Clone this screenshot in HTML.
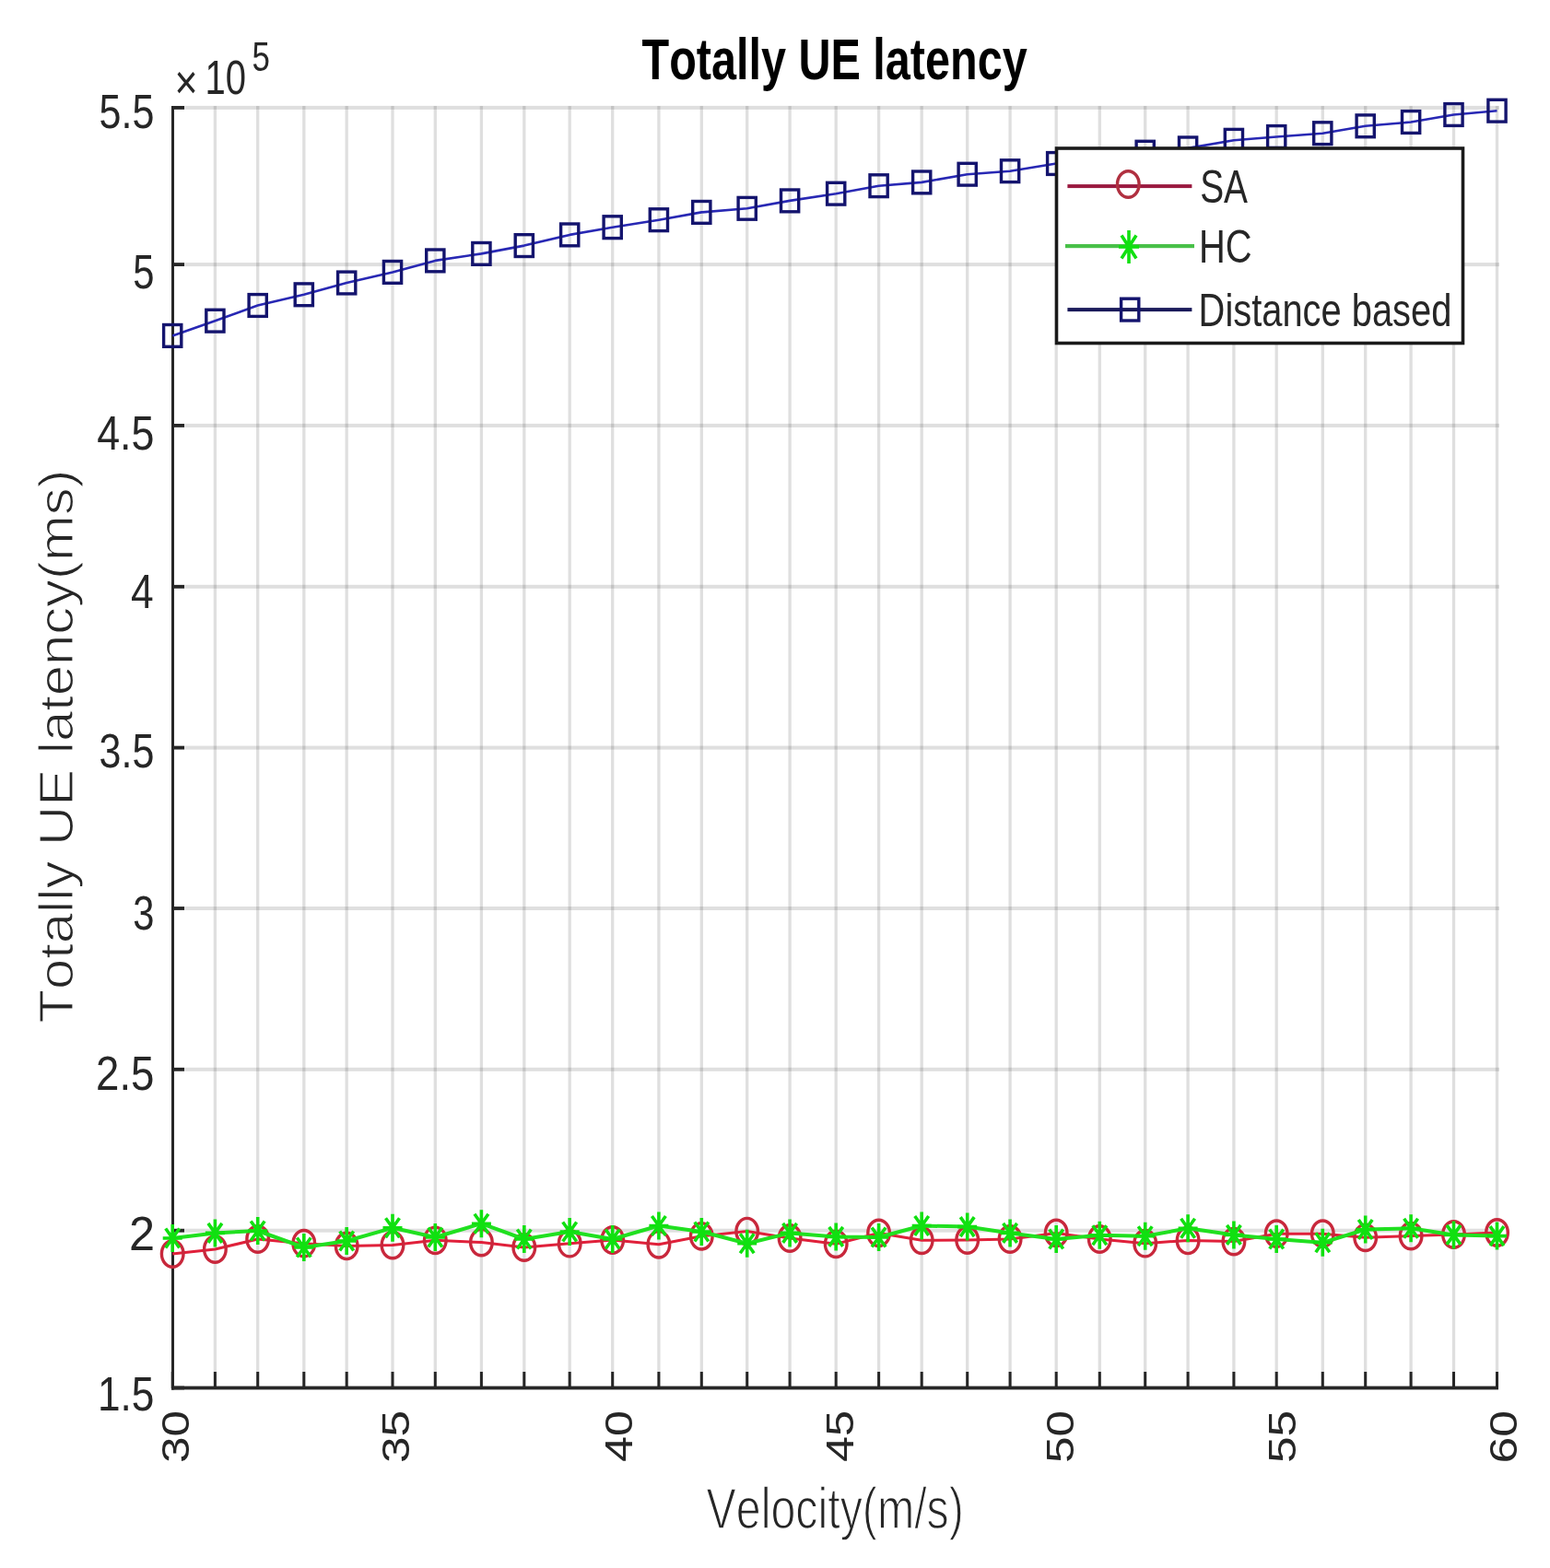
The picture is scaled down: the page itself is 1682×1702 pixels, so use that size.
<!DOCTYPE html>
<html><head><meta charset="utf-8"><title>Totally UE latency</title>
<style>html,body{margin:0;padding:0;background:#fff;overflow:hidden}svg{display:block}</style></head>
<body>
<svg width="1682" height="1702" viewBox="0 0 1682 1702">
<rect width="1682" height="1702" fill="#fff"/>
<rect x="231.75" y="115" width="3.3" height="1391" fill="rgba(38,38,38,0.15)"/>
<rect x="278.05" y="115" width="3.3" height="1391" fill="rgba(38,38,38,0.15)"/>
<rect x="328.15" y="115" width="3.3" height="1391" fill="rgba(38,38,38,0.15)"/>
<rect x="374.55" y="115" width="3.3" height="1391" fill="rgba(38,38,38,0.15)"/>
<rect x="424.35" y="115" width="3.3" height="1391" fill="rgba(38,38,38,0.15)"/>
<rect x="470.65" y="115" width="3.3" height="1391" fill="rgba(38,38,38,0.15)"/>
<rect x="520.75" y="115" width="3.3" height="1391" fill="rgba(38,38,38,0.15)"/>
<rect x="567.15" y="115" width="3.3" height="1391" fill="rgba(38,38,38,0.15)"/>
<rect x="616.55" y="115" width="3.3" height="1391" fill="rgba(38,38,38,0.15)"/>
<rect x="663.05" y="115" width="3.3" height="1391" fill="rgba(38,38,38,0.15)"/>
<rect x="713.25" y="115" width="3.3" height="1391" fill="rgba(38,38,38,0.15)"/>
<rect x="759.65" y="115" width="3.3" height="1391" fill="rgba(38,38,38,0.15)"/>
<rect x="809.05" y="115" width="3.3" height="1391" fill="rgba(38,38,38,0.15)"/>
<rect x="855.45" y="115" width="3.3" height="1391" fill="rgba(38,38,38,0.15)"/>
<rect x="905.55" y="115" width="3.3" height="1391" fill="rgba(38,38,38,0.15)"/>
<rect x="951.95" y="115" width="3.3" height="1391" fill="rgba(38,38,38,0.15)"/>
<rect x="998.55" y="115" width="3.3" height="1391" fill="rgba(38,38,38,0.15)"/>
<rect x="1048.05" y="115" width="3.3" height="1391" fill="rgba(38,38,38,0.15)"/>
<rect x="1094.45" y="115" width="3.3" height="1391" fill="rgba(38,38,38,0.15)"/>
<rect x="1144.55" y="115" width="3.3" height="1391" fill="rgba(38,38,38,0.15)"/>
<rect x="1191.65" y="115" width="3.3" height="1391" fill="rgba(38,38,38,0.15)"/>
<rect x="1241.05" y="115" width="3.3" height="1391" fill="rgba(38,38,38,0.15)"/>
<rect x="1287.45" y="115" width="3.3" height="1391" fill="rgba(38,38,38,0.15)"/>
<rect x="1337.25" y="115" width="3.3" height="1391" fill="rgba(38,38,38,0.15)"/>
<rect x="1383.55" y="115" width="3.3" height="1391" fill="rgba(38,38,38,0.15)"/>
<rect x="1433.65" y="115" width="3.3" height="1391" fill="rgba(38,38,38,0.15)"/>
<rect x="1480.05" y="115" width="3.3" height="1391" fill="rgba(38,38,38,0.15)"/>
<rect x="1529.45" y="115" width="3.3" height="1391" fill="rgba(38,38,38,0.15)"/>
<rect x="1575.85" y="115" width="3.3" height="1391" fill="rgba(38,38,38,0.15)"/>
<rect x="1622.85" y="115" width="3.3" height="1391" fill="rgba(38,38,38,0.15)"/>
<rect x="187" y="114.90" width="1440" height="4" fill="rgba(38,38,38,0.15)"/>
<rect x="187" y="285.10" width="1440" height="4" fill="rgba(38,38,38,0.15)"/>
<rect x="187" y="459.90" width="1440" height="4" fill="rgba(38,38,38,0.15)"/>
<rect x="187" y="634.80" width="1440" height="4" fill="rgba(38,38,38,0.15)"/>
<rect x="187" y="809.60" width="1440" height="4" fill="rgba(38,38,38,0.15)"/>
<rect x="187" y="984.00" width="1440" height="4" fill="rgba(38,38,38,0.15)"/>
<rect x="187" y="1158.80" width="1440" height="4" fill="rgba(38,38,38,0.15)"/>
<rect x="187" y="1333.70" width="1440" height="4" fill="rgba(38,38,38,0.15)"/>
<rect x="186" y="115" width="3" height="1393.5" fill="#262626"/>
<rect x="186" y="1504.6" width="1440" height="3.8" fill="#262626"/>
<rect x="186" y="115.00" width="14" height="3.8" fill="#262626"/>
<rect x="186" y="285.20" width="14" height="3.8" fill="#262626"/>
<rect x="186" y="460.00" width="14" height="3.8" fill="#262626"/>
<rect x="186" y="634.90" width="14" height="3.8" fill="#262626"/>
<rect x="186" y="809.70" width="14" height="3.8" fill="#262626"/>
<rect x="186" y="984.10" width="14" height="3.8" fill="#262626"/>
<rect x="186" y="1158.90" width="14" height="3.8" fill="#262626"/>
<rect x="186" y="1333.80" width="14" height="3.8" fill="#262626"/>
<rect x="186" y="1504.60" width="14" height="3.8" fill="#262626"/>
<rect x="185.70" y="1489" width="3" height="18" fill="#262626"/>
<rect x="231.90" y="1489" width="3" height="18" fill="#262626"/>
<rect x="278.20" y="1489" width="3" height="18" fill="#262626"/>
<rect x="328.30" y="1489" width="3" height="18" fill="#262626"/>
<rect x="374.70" y="1489" width="3" height="18" fill="#262626"/>
<rect x="424.50" y="1489" width="3" height="18" fill="#262626"/>
<rect x="470.80" y="1489" width="3" height="18" fill="#262626"/>
<rect x="520.90" y="1489" width="3" height="18" fill="#262626"/>
<rect x="567.30" y="1489" width="3" height="18" fill="#262626"/>
<rect x="616.70" y="1489" width="3" height="18" fill="#262626"/>
<rect x="663.20" y="1489" width="3" height="18" fill="#262626"/>
<rect x="713.40" y="1489" width="3" height="18" fill="#262626"/>
<rect x="759.80" y="1489" width="3" height="18" fill="#262626"/>
<rect x="809.20" y="1489" width="3" height="18" fill="#262626"/>
<rect x="855.60" y="1489" width="3" height="18" fill="#262626"/>
<rect x="905.70" y="1489" width="3" height="18" fill="#262626"/>
<rect x="952.10" y="1489" width="3" height="18" fill="#262626"/>
<rect x="998.70" y="1489" width="3" height="18" fill="#262626"/>
<rect x="1048.20" y="1489" width="3" height="18" fill="#262626"/>
<rect x="1094.60" y="1489" width="3" height="18" fill="#262626"/>
<rect x="1144.70" y="1489" width="3" height="18" fill="#262626"/>
<rect x="1191.80" y="1489" width="3" height="18" fill="#262626"/>
<rect x="1241.20" y="1489" width="3" height="18" fill="#262626"/>
<rect x="1287.60" y="1489" width="3" height="18" fill="#262626"/>
<rect x="1337.40" y="1489" width="3" height="18" fill="#262626"/>
<rect x="1383.70" y="1489" width="3" height="18" fill="#262626"/>
<rect x="1433.80" y="1489" width="3" height="18" fill="#262626"/>
<rect x="1480.20" y="1489" width="3" height="18" fill="#262626"/>
<rect x="1529.60" y="1489" width="3" height="18" fill="#262626"/>
<rect x="1576.00" y="1489" width="3" height="18" fill="#262626"/>
<rect x="1623.00" y="1489" width="3" height="18" fill="#262626"/>
<polyline points="187.2,1361.0 233.4,1356.0 279.7,1345.0 329.8,1349.7 376.2,1352.4 426.0,1351.5 472.3,1346.3 522.4,1348.6 568.8,1354.0 618.2,1349.7 664.7,1346.0 714.9,1350.8 761.3,1341.8 810.7,1336.6 857.1,1344.0 907.2,1350.3 953.6,1338.4 1000.2,1346.3 1049.7,1346.0 1096.1,1345.0 1146.2,1338.4 1193.3,1345.0 1242.7,1349.7 1289.1,1346.4 1338.9,1347.6 1385.2,1339.2 1435.3,1339.2 1481.7,1343.3 1531.1,1341.6 1577.5,1340.0 1624.5,1338.0" fill="none" stroke="#e0203a" stroke-width="3" stroke-linejoin="round"/>
<ellipse cx="187.2" cy="1361.0" rx="11.8" ry="14.2" fill="none" stroke="#c8283c" stroke-width="3.4"/>
<ellipse cx="233.4" cy="1356.0" rx="11.8" ry="14.2" fill="none" stroke="#c8283c" stroke-width="3.4"/>
<ellipse cx="279.7" cy="1345.0" rx="11.8" ry="14.2" fill="none" stroke="#c8283c" stroke-width="3.4"/>
<ellipse cx="329.8" cy="1349.7" rx="11.8" ry="14.2" fill="none" stroke="#c8283c" stroke-width="3.4"/>
<ellipse cx="376.2" cy="1352.4" rx="11.8" ry="14.2" fill="none" stroke="#c8283c" stroke-width="3.4"/>
<ellipse cx="426.0" cy="1351.5" rx="11.8" ry="14.2" fill="none" stroke="#c8283c" stroke-width="3.4"/>
<ellipse cx="472.3" cy="1346.3" rx="11.8" ry="14.2" fill="none" stroke="#c8283c" stroke-width="3.4"/>
<ellipse cx="522.4" cy="1348.6" rx="11.8" ry="14.2" fill="none" stroke="#c8283c" stroke-width="3.4"/>
<ellipse cx="568.8" cy="1354.0" rx="11.8" ry="14.2" fill="none" stroke="#c8283c" stroke-width="3.4"/>
<ellipse cx="618.2" cy="1349.7" rx="11.8" ry="14.2" fill="none" stroke="#c8283c" stroke-width="3.4"/>
<ellipse cx="664.7" cy="1346.0" rx="11.8" ry="14.2" fill="none" stroke="#c8283c" stroke-width="3.4"/>
<ellipse cx="714.9" cy="1350.8" rx="11.8" ry="14.2" fill="none" stroke="#c8283c" stroke-width="3.4"/>
<ellipse cx="761.3" cy="1341.8" rx="11.8" ry="14.2" fill="none" stroke="#c8283c" stroke-width="3.4"/>
<ellipse cx="810.7" cy="1336.6" rx="11.8" ry="14.2" fill="none" stroke="#c8283c" stroke-width="3.4"/>
<ellipse cx="857.1" cy="1344.0" rx="11.8" ry="14.2" fill="none" stroke="#c8283c" stroke-width="3.4"/>
<ellipse cx="907.2" cy="1350.3" rx="11.8" ry="14.2" fill="none" stroke="#c8283c" stroke-width="3.4"/>
<ellipse cx="953.6" cy="1338.4" rx="11.8" ry="14.2" fill="none" stroke="#c8283c" stroke-width="3.4"/>
<ellipse cx="1000.2" cy="1346.3" rx="11.8" ry="14.2" fill="none" stroke="#c8283c" stroke-width="3.4"/>
<ellipse cx="1049.7" cy="1346.0" rx="11.8" ry="14.2" fill="none" stroke="#c8283c" stroke-width="3.4"/>
<ellipse cx="1096.1" cy="1345.0" rx="11.8" ry="14.2" fill="none" stroke="#c8283c" stroke-width="3.4"/>
<ellipse cx="1146.2" cy="1338.4" rx="11.8" ry="14.2" fill="none" stroke="#c8283c" stroke-width="3.4"/>
<ellipse cx="1193.3" cy="1345.0" rx="11.8" ry="14.2" fill="none" stroke="#c8283c" stroke-width="3.4"/>
<ellipse cx="1242.7" cy="1349.7" rx="11.8" ry="14.2" fill="none" stroke="#c8283c" stroke-width="3.4"/>
<ellipse cx="1289.1" cy="1346.4" rx="11.8" ry="14.2" fill="none" stroke="#c8283c" stroke-width="3.4"/>
<ellipse cx="1338.9" cy="1347.6" rx="11.8" ry="14.2" fill="none" stroke="#c8283c" stroke-width="3.4"/>
<ellipse cx="1385.2" cy="1339.2" rx="11.8" ry="14.2" fill="none" stroke="#c8283c" stroke-width="3.4"/>
<ellipse cx="1435.3" cy="1339.2" rx="11.8" ry="14.2" fill="none" stroke="#c8283c" stroke-width="3.4"/>
<ellipse cx="1481.7" cy="1343.3" rx="11.8" ry="14.2" fill="none" stroke="#c8283c" stroke-width="3.4"/>
<ellipse cx="1531.1" cy="1341.6" rx="11.8" ry="14.2" fill="none" stroke="#c8283c" stroke-width="3.4"/>
<ellipse cx="1577.5" cy="1340.0" rx="11.8" ry="14.2" fill="none" stroke="#c8283c" stroke-width="3.4"/>
<ellipse cx="1624.5" cy="1338.0" rx="11.8" ry="14.2" fill="none" stroke="#c8283c" stroke-width="3.4"/>
<polyline points="187.2,1344.0 233.4,1338.4 279.7,1336.0 329.8,1354.0 376.2,1347.0 426.0,1332.8 472.3,1343.0 522.4,1328.2 568.8,1345.0 618.2,1337.0 664.7,1345.0 714.9,1330.5 761.3,1337.0 810.7,1349.7 857.1,1338.4 907.2,1342.4 953.6,1343.0 1000.2,1330.5 1049.7,1331.6 1096.1,1338.4 1146.2,1345.0 1193.3,1340.7 1242.7,1341.8 1289.1,1333.3 1338.9,1340.4 1385.2,1345.0 1435.3,1348.8 1481.7,1334.5 1531.1,1333.3 1577.5,1340.4 1624.5,1341.6" fill="none" stroke="#20e020" stroke-width="4" stroke-linejoin="round"/>
<path d="M176.7,1344.0H197.7M187.2,1329.0V1359.0M179.7,1333.5L194.7,1354.5M179.7,1354.5L194.7,1333.5" stroke="#10e010" stroke-width="3.6" fill="none"/>
<path d="M222.9,1338.4H243.9M233.4,1323.4V1353.4M225.9,1327.9L240.9,1348.9M225.9,1348.9L240.9,1327.9" stroke="#10e010" stroke-width="3.6" fill="none"/>
<path d="M269.2,1336.0H290.2M279.7,1321.0V1351.0M272.2,1325.5L287.2,1346.5M272.2,1346.5L287.2,1325.5" stroke="#10e010" stroke-width="3.6" fill="none"/>
<path d="M319.3,1354.0H340.3M329.8,1339.0V1369.0M322.3,1343.5L337.3,1364.5M322.3,1364.5L337.3,1343.5" stroke="#10e010" stroke-width="3.6" fill="none"/>
<path d="M365.7,1347.0H386.7M376.2,1332.0V1362.0M368.7,1336.5L383.7,1357.5M368.7,1357.5L383.7,1336.5" stroke="#10e010" stroke-width="3.6" fill="none"/>
<path d="M415.5,1332.8H436.5M426.0,1317.8V1347.8M418.5,1322.3L433.5,1343.3M418.5,1343.3L433.5,1322.3" stroke="#10e010" stroke-width="3.6" fill="none"/>
<path d="M461.8,1343.0H482.8M472.3,1328.0V1358.0M464.8,1332.5L479.8,1353.5M464.8,1353.5L479.8,1332.5" stroke="#10e010" stroke-width="3.6" fill="none"/>
<path d="M511.9,1328.2H532.9M522.4,1313.2V1343.2M514.9,1317.7L529.9,1338.7M514.9,1338.7L529.9,1317.7" stroke="#10e010" stroke-width="3.6" fill="none"/>
<path d="M558.3,1345.0H579.3M568.8,1330.0V1360.0M561.3,1334.5L576.3,1355.5M561.3,1355.5L576.3,1334.5" stroke="#10e010" stroke-width="3.6" fill="none"/>
<path d="M607.7,1337.0H628.7M618.2,1322.0V1352.0M610.7,1326.5L625.7,1347.5M610.7,1347.5L625.7,1326.5" stroke="#10e010" stroke-width="3.6" fill="none"/>
<path d="M654.2,1345.0H675.2M664.7,1330.0V1360.0M657.2,1334.5L672.2,1355.5M657.2,1355.5L672.2,1334.5" stroke="#10e010" stroke-width="3.6" fill="none"/>
<path d="M704.4,1330.5H725.4M714.9,1315.5V1345.5M707.4,1320.0L722.4,1341.0M707.4,1341.0L722.4,1320.0" stroke="#10e010" stroke-width="3.6" fill="none"/>
<path d="M750.8,1337.0H771.8M761.3,1322.0V1352.0M753.8,1326.5L768.8,1347.5M753.8,1347.5L768.8,1326.5" stroke="#10e010" stroke-width="3.6" fill="none"/>
<path d="M800.2,1349.7H821.2M810.7,1334.7V1364.7M803.2,1339.2L818.2,1360.2M803.2,1360.2L818.2,1339.2" stroke="#10e010" stroke-width="3.6" fill="none"/>
<path d="M846.6,1338.4H867.6M857.1,1323.4V1353.4M849.6,1327.9L864.6,1348.9M849.6,1348.9L864.6,1327.9" stroke="#10e010" stroke-width="3.6" fill="none"/>
<path d="M896.7,1342.4H917.7M907.2,1327.4V1357.4M899.7,1331.9L914.7,1352.9M899.7,1352.9L914.7,1331.9" stroke="#10e010" stroke-width="3.6" fill="none"/>
<path d="M943.1,1343.0H964.1M953.6,1328.0V1358.0M946.1,1332.5L961.1,1353.5M946.1,1353.5L961.1,1332.5" stroke="#10e010" stroke-width="3.6" fill="none"/>
<path d="M989.7,1330.5H1010.7M1000.2,1315.5V1345.5M992.7,1320.0L1007.7,1341.0M992.7,1341.0L1007.7,1320.0" stroke="#10e010" stroke-width="3.6" fill="none"/>
<path d="M1039.2,1331.6H1060.2M1049.7,1316.6V1346.6M1042.2,1321.1L1057.2,1342.1M1042.2,1342.1L1057.2,1321.1" stroke="#10e010" stroke-width="3.6" fill="none"/>
<path d="M1085.6,1338.4H1106.6M1096.1,1323.4V1353.4M1088.6,1327.9L1103.6,1348.9M1088.6,1348.9L1103.6,1327.9" stroke="#10e010" stroke-width="3.6" fill="none"/>
<path d="M1135.7,1345.0H1156.7M1146.2,1330.0V1360.0M1138.7,1334.5L1153.7,1355.5M1138.7,1355.5L1153.7,1334.5" stroke="#10e010" stroke-width="3.6" fill="none"/>
<path d="M1182.8,1340.7H1203.8M1193.3,1325.7V1355.7M1185.8,1330.2L1200.8,1351.2M1185.8,1351.2L1200.8,1330.2" stroke="#10e010" stroke-width="3.6" fill="none"/>
<path d="M1232.2,1341.8H1253.2M1242.7,1326.8V1356.8M1235.2,1331.3L1250.2,1352.3M1235.2,1352.3L1250.2,1331.3" stroke="#10e010" stroke-width="3.6" fill="none"/>
<path d="M1278.6,1333.3H1299.6M1289.1,1318.3V1348.3M1281.6,1322.8L1296.6,1343.8M1281.6,1343.8L1296.6,1322.8" stroke="#10e010" stroke-width="3.6" fill="none"/>
<path d="M1328.4,1340.4H1349.4M1338.9,1325.4V1355.4M1331.4,1329.9L1346.4,1350.9M1331.4,1350.9L1346.4,1329.9" stroke="#10e010" stroke-width="3.6" fill="none"/>
<path d="M1374.7,1345.0H1395.7M1385.2,1330.0V1360.0M1377.7,1334.5L1392.7,1355.5M1377.7,1355.5L1392.7,1334.5" stroke="#10e010" stroke-width="3.6" fill="none"/>
<path d="M1424.8,1348.8H1445.8M1435.3,1333.8V1363.8M1427.8,1338.3L1442.8,1359.3M1427.8,1359.3L1442.8,1338.3" stroke="#10e010" stroke-width="3.6" fill="none"/>
<path d="M1471.2,1334.5H1492.2M1481.7,1319.5V1349.5M1474.2,1324.0L1489.2,1345.0M1474.2,1345.0L1489.2,1324.0" stroke="#10e010" stroke-width="3.6" fill="none"/>
<path d="M1520.6,1333.3H1541.6M1531.1,1318.3V1348.3M1523.6,1322.8L1538.6,1343.8M1523.6,1343.8L1538.6,1322.8" stroke="#10e010" stroke-width="3.6" fill="none"/>
<path d="M1567.0,1340.4H1588.0M1577.5,1325.4V1355.4M1570.0,1329.9L1585.0,1350.9M1570.0,1350.9L1585.0,1329.9" stroke="#10e010" stroke-width="3.6" fill="none"/>
<path d="M1614.0,1341.6H1635.0M1624.5,1326.6V1356.6M1617.0,1331.1L1632.0,1352.1M1617.0,1352.1L1632.0,1331.1" stroke="#10e010" stroke-width="3.6" fill="none"/>
<polyline points="187.2,364.4 233.4,348.2 279.7,331.5 329.8,319.8 376.2,307.0 426.0,295.4 472.3,282.9 522.4,275.4 568.8,266.6 618.2,254.9 664.7,246.7 714.9,238.7 761.3,230.4 810.7,226.3 857.1,217.9 907.2,210.2 953.6,201.7 1000.2,197.9 1049.7,189.2 1096.1,185.7 1146.2,177.5 1193.3,175.0 1242.7,165.2 1289.1,160.9 1338.9,152.3 1385.2,148.5 1435.3,144.7 1481.7,136.8 1531.1,132.5 1577.5,124.5 1624.5,120.2" fill="none" stroke="#2828b4" stroke-width="2.6" stroke-linejoin="round"/>
<rect x="177.6" y="352.5" width="19.2" height="23.8" fill="none" stroke="#14146e" stroke-width="3.4"/>
<rect x="223.8" y="336.3" width="19.2" height="23.8" fill="none" stroke="#14146e" stroke-width="3.4"/>
<rect x="270.1" y="319.6" width="19.2" height="23.8" fill="none" stroke="#14146e" stroke-width="3.4"/>
<rect x="320.2" y="307.9" width="19.2" height="23.8" fill="none" stroke="#14146e" stroke-width="3.4"/>
<rect x="366.6" y="295.1" width="19.2" height="23.8" fill="none" stroke="#14146e" stroke-width="3.4"/>
<rect x="416.4" y="283.5" width="19.2" height="23.8" fill="none" stroke="#14146e" stroke-width="3.4"/>
<rect x="462.7" y="271.0" width="19.2" height="23.8" fill="none" stroke="#14146e" stroke-width="3.4"/>
<rect x="512.8" y="263.5" width="19.2" height="23.8" fill="none" stroke="#14146e" stroke-width="3.4"/>
<rect x="559.2" y="254.7" width="19.2" height="23.8" fill="none" stroke="#14146e" stroke-width="3.4"/>
<rect x="608.6" y="243.0" width="19.2" height="23.8" fill="none" stroke="#14146e" stroke-width="3.4"/>
<rect x="655.1" y="234.8" width="19.2" height="23.8" fill="none" stroke="#14146e" stroke-width="3.4"/>
<rect x="705.3" y="226.8" width="19.2" height="23.8" fill="none" stroke="#14146e" stroke-width="3.4"/>
<rect x="751.7" y="218.5" width="19.2" height="23.8" fill="none" stroke="#14146e" stroke-width="3.4"/>
<rect x="801.1" y="214.4" width="19.2" height="23.8" fill="none" stroke="#14146e" stroke-width="3.4"/>
<rect x="847.5" y="206.0" width="19.2" height="23.8" fill="none" stroke="#14146e" stroke-width="3.4"/>
<rect x="897.6" y="198.3" width="19.2" height="23.8" fill="none" stroke="#14146e" stroke-width="3.4"/>
<rect x="944.0" y="189.8" width="19.2" height="23.8" fill="none" stroke="#14146e" stroke-width="3.4"/>
<rect x="990.6" y="186.0" width="19.2" height="23.8" fill="none" stroke="#14146e" stroke-width="3.4"/>
<rect x="1040.1" y="177.3" width="19.2" height="23.8" fill="none" stroke="#14146e" stroke-width="3.4"/>
<rect x="1086.5" y="173.8" width="19.2" height="23.8" fill="none" stroke="#14146e" stroke-width="3.4"/>
<rect x="1136.6" y="165.6" width="19.2" height="23.8" fill="none" stroke="#14146e" stroke-width="3.4"/>
<rect x="1183.7" y="163.1" width="19.2" height="23.8" fill="none" stroke="#14146e" stroke-width="3.4"/>
<rect x="1233.1" y="153.3" width="19.2" height="23.8" fill="none" stroke="#14146e" stroke-width="3.4"/>
<rect x="1279.5" y="149.0" width="19.2" height="23.8" fill="none" stroke="#14146e" stroke-width="3.4"/>
<rect x="1329.3" y="140.4" width="19.2" height="23.8" fill="none" stroke="#14146e" stroke-width="3.4"/>
<rect x="1375.6" y="136.6" width="19.2" height="23.8" fill="none" stroke="#14146e" stroke-width="3.4"/>
<rect x="1425.7" y="132.8" width="19.2" height="23.8" fill="none" stroke="#14146e" stroke-width="3.4"/>
<rect x="1472.1" y="124.9" width="19.2" height="23.8" fill="none" stroke="#14146e" stroke-width="3.4"/>
<rect x="1521.5" y="120.6" width="19.2" height="23.8" fill="none" stroke="#14146e" stroke-width="3.4"/>
<rect x="1567.9" y="112.6" width="19.2" height="23.8" fill="none" stroke="#14146e" stroke-width="3.4"/>
<rect x="1614.9" y="108.3" width="19.2" height="23.8" fill="none" stroke="#14146e" stroke-width="3.4"/>
<rect x="1146.5" y="161" width="441" height="211.5" fill="#fff" stroke="#1a1a1a" stroke-width="3.6"/>
<rect x="1158.4" y="200.1" width="135" height="4" fill="#9a1a40"/>
<ellipse cx="1224.3" cy="200.0" rx="11.8" ry="14.2" fill="none" stroke="#b03040" stroke-width="3.4"/>
<rect x="1156" y="265" width="140" height="4.2" fill="#48c048"/>
<path d="M1214.0,268.0H1236.0M1225.0,250.0V286.0M1217.0,255.5L1233.0,280.5M1217.0,280.5L1233.0,255.5" stroke="#10e010" stroke-width="3.6" fill="none"/>
<rect x="1158.4" y="334.1" width="135" height="4" fill="#1a1a5a"/>
<rect x="1216.6" y="324.2" width="19.2" height="23.8" fill="none" stroke="#14146e" stroke-width="3.4"/>
<text font-family="'Liberation Sans', Arial, Helvetica, sans-serif" style="font-kerning:none" font-size="100" font-weight="bold" fill="#000" transform="matrix(0.48547,0,0,0.63478,696.51,85.60)">Totally UE latency</text>
<text font-family="'Liberation Sans', Arial, Helvetica, sans-serif" style="font-kerning:none" font-size="100" fill="#262626" transform="matrix(0.42955,0,0,0.51818,189.49,107.00)">×</text>
<text font-family="'Liberation Sans', Arial, Helvetica, sans-serif" style="font-kerning:none" font-size="100" fill="#262626" transform="matrix(0.40000,0,0,0.51000,222.40,101.70)">10</text>
<text font-family="'Liberation Sans', Arial, Helvetica, sans-serif" style="font-kerning:none" font-size="100" fill="#262626" transform="matrix(0.34894,0,0,0.45072,273.50,77.10)">5</text>
<text font-family="'Liberation Sans', Arial, Helvetica, sans-serif" style="font-kerning:none" font-size="100" fill="#262626" transform="matrix(0.42977,0,0,0.52174,107.58,138.70)">5.5</text>
<text font-family="'Liberation Sans', Arial, Helvetica, sans-serif" style="font-kerning:none" font-size="100" fill="#262626" transform="matrix(0.41702,0,0,0.52174,144.33,313.10)">5</text>
<text font-family="'Liberation Sans', Arial, Helvetica, sans-serif" style="font-kerning:none" font-size="100" fill="#262626" transform="matrix(0.44737,0,0,0.52174,105.21,488.10)">4.5</text>
<text font-family="'Liberation Sans', Arial, Helvetica, sans-serif" style="font-kerning:none" font-size="100" fill="#262626" transform="matrix(0.44314,0,0,0.52174,142.11,659.50)">4</text>
<text font-family="'Liberation Sans', Arial, Helvetica, sans-serif" style="font-kerning:none" font-size="100" fill="#262626" transform="matrix(0.42977,0,0,0.51429,107.58,833.10)">3.5</text>
<text font-family="'Liberation Sans', Arial, Helvetica, sans-serif" style="font-kerning:none" font-size="100" fill="#262626" transform="matrix(0.41702,0,0,0.51429,144.33,1008.50)">3</text>
<text font-family="'Liberation Sans', Arial, Helvetica, sans-serif" style="font-kerning:none" font-size="100" fill="#262626" transform="matrix(0.45615,0,0,0.51429,104.02,1183.10)">2.5</text>
<text font-family="'Liberation Sans', Arial, Helvetica, sans-serif" style="font-kerning:none" font-size="100" fill="#262626" transform="matrix(0.50435,0,0,0.51429,139.88,1357.40)">2</text>
<text font-family="'Liberation Sans', Arial, Helvetica, sans-serif" style="font-kerning:none" font-size="100" fill="#262626" transform="matrix(0.44173,0,0,0.52174,105.97,1531.00)">1.5</text>
<text font-family="'Liberation Sans', Arial, Helvetica, sans-serif" style="font-kerning:none" font-size="100" fill="#262626" transform="matrix(0,-0.51456,0.41714,0,205.20,1588.06)">30</text>
<text font-family="'Liberation Sans', Arial, Helvetica, sans-serif" style="font-kerning:none" font-size="100" fill="#262626" transform="matrix(0,-0.51456,0.41714,0,444.30,1588.06)">35</text>
<text font-family="'Liberation Sans', Arial, Helvetica, sans-serif" style="font-kerning:none" font-size="100" fill="#262626" transform="matrix(0,-0.50476,0.41714,0,686.40,1587.01)">40</text>
<text font-family="'Liberation Sans', Arial, Helvetica, sans-serif" style="font-kerning:none" font-size="100" fill="#262626" transform="matrix(0,-0.50476,0.42319,0,925.80,1587.01)">45</text>
<text font-family="'Liberation Sans', Arial, Helvetica, sans-serif" style="font-kerning:none" font-size="100" fill="#262626" transform="matrix(0,-0.51456,0.41714,0,1164.60,1588.06)">50</text>
<text font-family="'Liberation Sans', Arial, Helvetica, sans-serif" style="font-kerning:none" font-size="100" fill="#262626" transform="matrix(0,-0.51456,0.42319,0,1406.00,1588.06)">55</text>
<text font-family="'Liberation Sans', Arial, Helvetica, sans-serif" style="font-kerning:none" font-size="100" fill="#262626" transform="matrix(0,-0.51961,0.41714,0,1645.60,1588.60)">60</text>
<text font-family="'Liberation Sans', Arial, Helvetica, sans-serif" style="font-kerning:none" font-size="100" fill="#262626" stroke="#fff" stroke-width="2.2" transform="matrix(0.48319,0,0,0.63478,766.62,1658.50)">Velocity(m/s)</text>
<text font-family="'Liberation Sans', Arial, Helvetica, sans-serif" style="font-kerning:none" font-size="100" fill="#262626" stroke="#fff" stroke-width="2.2" transform="matrix(0,-0.59760,0.51449,0,79.10,1110.50)">Totally UE latency(ms)</text>
<text font-family="'Liberation Sans', Arial, Helvetica, sans-serif" style="font-kerning:none" font-size="100" fill="#262626" transform="matrix(0.38828,0,0,0.50857,1302.16,219.70)">SA</text>
<text font-family="'Liberation Sans', Arial, Helvetica, sans-serif" style="font-kerning:none" font-size="100" fill="#262626" transform="matrix(0.39924,0,0,0.50857,1300.91,284.60)">HC</text>
<text font-family="'Liberation Sans', Arial, Helvetica, sans-serif" style="font-kerning:none" font-size="100" fill="#262626" transform="matrix(0.39867,0,0,0.50704,1300.61,354.40)">Distance based</text>
</svg>
</body></html>
